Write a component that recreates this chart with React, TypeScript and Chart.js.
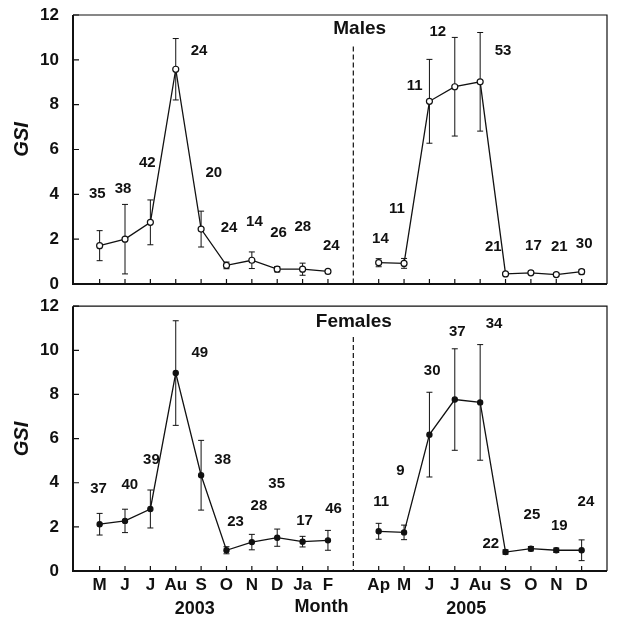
import React, { useEffect, useRef } from 'react';
import { Chart, registerables } from 'chart.js';

Chart.register(...registerables);

// ---- categories ----
const months2003 = ['M', 'J', 'J', 'Au', 'S', 'O', 'N', 'D', 'Ja', 'F'];
const months2005 = ['Ap', 'M', 'J', 'J', 'Au', 'S', 'O', 'N', 'D'];
const yTicks = [0, 2, 4, 6, 8, 10, 12];

// ---- Males ----
const males2003 = [1.71, 2.0, 2.75, 9.58, 2.45, 0.83, 1.06, 0.66, 0.66, 0.56];
const malesErr2003 = [0.67, 1.55, 1.0, 1.37, 0.8, 0.15, 0.37, 0.12, 0.27, 0.07];
const malesN2003 = [35, 38, 42, 24, 20, 24, 14, 26, 28, 24];
const males2005 = [0.95, 0.92, 8.15, 8.8, 9.02, 0.45, 0.5, 0.42, 0.55];
const malesErr2005 = [0.18, 0.22, 1.87, 2.2, 2.2, 0.04, 0.08, 0.07, 0.1];
const malesN2005 = [14, 11, 11, 12, 53, 21, 17, 21, 30];

// ---- Females ----
const females2003 = [2.12, 2.27, 2.81, 8.97, 4.34, 0.94, 1.31, 1.51, 1.33, 1.39];
const femalesErr2003 = [0.49, 0.53, 0.86, 2.37, 1.58, 0.16, 0.35, 0.39, 0.24, 0.45];
const femalesN2003 = [37, 40, 39, 49, 38, 23, 28, 35, 17, 46];
const females2005 = [1.8, 1.75, 6.18, 7.77, 7.64, 0.86, 1.01, 0.94, 0.94];
const femalesErr2005 = [0.36, 0.33, 1.92, 2.3, 2.62, 0.1, 0.1, 0.1, 0.47];
const femalesN2005 = [11, 9, 30, 37, 34, 22, 25, 19, 24];

// ---- sample-size label anchors (x in month slots, y in GSI units) ----
const malesLabelAt = [
  [0.91, 4.0], [1.92, 4.24], [2.88, 5.39], [4.92, 10.42], [5.5, 4.97],
  [6.1, 2.52], [7.1, 2.78], [8.05, 2.3], [9.01, 2.56], [10.13, 1.71],
  [12.07, 2.0], [12.72, 3.35], [13.42, 8.85], [14.33, 11.24], [16.9, 10.42],
  [16.52, 1.66], [18.1, 1.71], [19.12, 1.64], [20.1, 1.77],
];
const femalesLabelAt = [
  [0.96, 3.7], [2.19, 3.91], [3.04, 5.05], [4.95, 9.9], [5.85, 5.05],
  [6.36, 2.22], [7.28, 2.95], [7.98, 3.96], [9.08, 2.25], [10.22, 2.8],
  [12.1, 3.13], [12.86, 4.56], [14.11, 9.09], [15.1, 10.83], [16.55, 11.18],
  [16.42, 1.24], [18.04, 2.55], [19.12, 2.04], [20.17, 3.13],
];

const axisCaptions = [
  { text: '2003', x: 4.75 },
  { text: 'Month', x: 9.75 },
  { text: '2005', x: 15.45 },
];

const FONT = '"Liberation Sans", Arial, Helvetica, sans-serif';
const INK = '#111';

type Panel = {
  title: string;
  titleAt: number[];
  gsiY: number;
  v2003: number[]; e2003: number[]; n2003: number[];
  v2005: number[]; e2005: number[]; n2005: number[];
  labelAt: number[][];
  open: boolean;
  bottom: boolean;
};

const panels: Panel[] = [
  {
    title: 'Males', titleAt: [11.25, 11.38], gsiY: 6.45,
    v2003: males2003, e2003: malesErr2003, n2003: malesN2003,
    v2005: males2005, e2005: malesErr2005, n2005: malesN2005,
    labelAt: malesLabelAt, open: true, bottom: false,
  },
  {
    title: 'Females', titleAt: [11.02, 11.28], gsiY: 5.98,
    v2003: females2003, e2003: femalesErr2003, n2003: femalesN2003,
    v2005: females2005, e2005: femalesErr2005, n2005: femalesN2005,
    labelAt: femalesLabelAt, open: false, bottom: true,
  },
];

const slot2003 = (i: number) => i + 1;
const slot2005 = (i: number) => i + 12;
const GAP_SLOT = 11;
const DASH_TOP = 10.6;

function tickLabel(v: number): string {
  if (!Number.isInteger(v)) return '';
  if (v >= 1 && v <= months2003.length) return months2003[v - 1];
  if (v >= 12 && v < 12 + months2005.length) return months2005[v - 12];
  return '';
}

function makeDecor(p: Panel) {
  return {
    id: 'decor',
    beforeDatasetsDraw(chart: any) {
      const ctx = chart.ctx;
      const xs = chart.scales.x;
      const ys = chart.scales.y;
      ctx.save();
      ctx.strokeStyle = INK;
      ctx.lineWidth = 1;
      const groups = [
        { v: p.v2003, e: p.e2003, slot: slot2003 },
        { v: p.v2005, e: p.e2005, slot: slot2005 },
      ];
      groups.forEach((g) => {
        g.v.forEach((val, i) => {
          const x = xs.getPixelForValue(g.slot(i));
          const yt = ys.getPixelForValue(val + g.e[i]);
          const yb = ys.getPixelForValue(val - g.e[i]);
          ctx.beginPath();
          ctx.moveTo(x, yt); ctx.lineTo(x, yb);
          ctx.moveTo(x - 3, yt); ctx.lineTo(x + 3, yt);
          ctx.moveTo(x - 3, yb); ctx.lineTo(x + 3, yb);
          ctx.stroke();
        });
      });
      ctx.restore();
    },
    afterDraw(chart: any) {
      const ctx = chart.ctx;
      const a = chart.chartArea;
      const xs = chart.scales.x;
      const ys = chart.scales.y;
      ctx.save();
      ctx.strokeStyle = INK;
      // frame
      ctx.lineWidth = 1.2;
      ctx.beginPath();
      ctx.moveTo(a.left, a.top); ctx.lineTo(a.right, a.top); ctx.lineTo(a.right, a.bottom);
      ctx.stroke();
      ctx.lineWidth = 2;
      ctx.beginPath();
      ctx.moveTo(a.left, a.top); ctx.lineTo(a.left, a.bottom); ctx.lineTo(a.right, a.bottom);
      ctx.stroke();
      // inward ticks
      ctx.lineWidth = 1.2;
      ctx.beginPath();
      yTicks.forEach((t) => {
        const y = ys.getPixelForValue(t);
        ctx.moveTo(a.left, y); ctx.lineTo(a.left + 6, y);
      });
      months2003.forEach((_, i) => {
        const x = xs.getPixelForValue(slot2003(i));
        ctx.moveTo(x, a.bottom); ctx.lineTo(x, a.bottom - 5);
      });
      months2005.forEach((_, i) => {
        const x = xs.getPixelForValue(slot2005(i));
        ctx.moveTo(x, a.bottom); ctx.lineTo(x, a.bottom - 5);
      });
      ctx.stroke();
      // dashed separator
      ctx.setLineDash([5, 3]);
      ctx.lineWidth = 1.2;
      ctx.beginPath();
      const gx = xs.getPixelForValue(GAP_SLOT);
      ctx.moveTo(gx, ys.getPixelForValue(DASH_TOP));
      ctx.lineTo(gx, a.bottom);
      ctx.stroke();
      ctx.setLineDash([]);
      // sample sizes
      ctx.fillStyle = INK;
      ctx.textAlign = 'center';
      ctx.textBaseline = 'middle';
      ctx.font = `bold 15px ${FONT}`;
      const ns = [...p.n2003, ...p.n2005];
      ns.forEach((n, i) => {
        const at = p.labelAt[i];
        ctx.fillText(String(n), xs.getPixelForValue(at[0]), ys.getPixelForValue(at[1]));
      });
      // panel title
      ctx.font = `bold 19px ${FONT}`;
      ctx.fillText(p.title, xs.getPixelForValue(p.titleAt[0]), ys.getPixelForValue(p.titleAt[1]));
      // GSI
      ctx.save();
      ctx.translate(22, ys.getPixelForValue(p.gsiY));
      ctx.rotate(-Math.PI / 2);
      ctx.font = `italic bold 20px ${FONT}`;
      ctx.fillText('GSI', 0, 0);
      ctx.restore();
      // bottom captions
      if (p.bottom) {
        ctx.font = `bold 18px ${FONT}`;
        axisCaptions.forEach((c) => {
          ctx.fillText(c.text, xs.getPixelForValue(c.x), a.bottom + (c.text === 'Month' ? 36 : 38));
        });
      }
      ctx.restore();
    },
  };
}

function makeConfig(p: Panel): any {
  const base = {
    showLine: true,
    borderColor: INK,
    borderWidth: 1.3,
    tension: 0,
    pointRadius: p.open ? 3 : 2.6,
    pointBorderWidth: 1.2,
    pointBackgroundColor: p.open ? '#fff' : INK,
    pointBorderColor: INK,
    fill: false,
  };
  return {
    type: 'scatter',
    data: {
      datasets: [
        { ...base, label: '2003', data: p.v2003.map((v, i) => ({ x: slot2003(i), y: v })) },
        { ...base, label: '2005', data: p.v2005.map((v, i) => ({ x: slot2005(i), y: v })) },
      ],
    },
    options: {
      responsive: false,
      animation: false,
      devicePixelRatio: 1,
      layout: { padding: { left: 0, right: 12, top: p.bottom ? 10 : 15, bottom: p.bottom ? 0 : 12 } },
      plugins: { legend: { display: false }, tooltip: { enabled: false }, title: { display: false } },
      scales: {
        x: {
          type: 'linear',
          min: -0.05,
          max: 21,
          grid: { display: false, drawTicks: true, tickLength: 4 },
          border: { display: false },
          ticks: {
            display: p.bottom,
            stepSize: 1,
            autoSkip: false,
            maxRotation: 0,
            padding: 0,
            color: INK,
            font: { family: FONT, size: 17, weight: 'bold' },
            callback: (v: number) => tickLabel(v),
          },
          afterFit: (s: any) => { s.height = p.bottom ? 48 : 0; },
        },
        y: {
          min: 0,
          max: 12,
          grid: { display: false, drawTicks: true, tickLength: 14 },
          border: { display: false },
          ticks: {
            stepSize: 2,
            padding: 0,
            color: INK,
            font: { family: FONT, size: 17, weight: 'bold' },
          },
          afterFit: (s: any) => { s.width = 73; },
        },
      },
    },
    plugins: [makeDecor(p)],
  };
}

function PanelChart({ p, top, height }: { p: Panel; top: number; height: number }) {
  const ref = useRef<HTMLCanvasElement | null>(null);
  useEffect(() => {
    if (!ref.current) return;
    const chart = new Chart(ref.current, makeConfig(p));
    return () => chart.destroy();
  }, [p]);
  return (
    <canvas
      ref={ref}
      width={619}
      height={height}
      style={{ position: 'absolute', left: 0, top, width: 619, height, display: 'block' }}
    />
  );
}

export default function App() {
  return (
    <div style={{ position: 'fixed', left: 0, top: 0, width: 619, height: 619, background: '#fff', overflow: 'hidden' }}>
      <PanelChart p={panels[0]} top={0} height={296} />
      <PanelChart p={panels[1]} top={296} height={323} />
    </div>
  );
}
